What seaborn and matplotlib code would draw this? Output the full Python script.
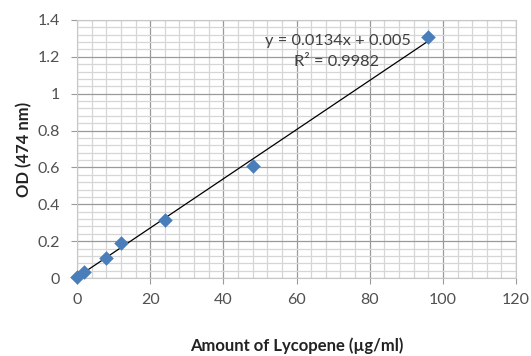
import numpy as np
import pandas as pd
import matplotlib
matplotlib.use("Agg")
import matplotlib.pyplot as plt
from matplotlib.ticker import MultipleLocator, FuncFormatter
import seaborn as sns

# standard curve values
amount_ug_ml = [0, 2, 8, 12, 24, 48, 96]
od_474 = [0.008, 0.035, 0.11, 0.19, 0.315, 0.605, 1.305]
equation_text = "y = 0.0134x + 0.005"
r2_text = "R² = 0.9982"

data = pd.DataFrame({"amount": amount_ug_ml, "od": od_474})

sns.set_style("white")
plt.rcParams["font.family"] = ["Lato", "DejaVu Sans"]

fig = plt.figure(figsize=(5.31, 3.56), dpi=100)
ax = fig.add_axes([0.145, 0.219, 0.827, 0.725])

# linear trend line (from first to last point)
sns.regplot(
    data=data, x="amount", y="od",
    scatter=False, ci=None, truncate=True,
    line_kws=dict(color="black", linewidth=0.9, zorder=3),
    ax=ax
    )

# measured points
sns.scatterplot(
    data=data, x="amount", y="od",
    marker="D", s=55, color="#4a7ebb", edgecolor="#4a7ebb",
    linewidth=0, zorder=4, clip_on=False, ax=ax
    )

# axes limits and ticks
ax.set_xlim(0, 120)
ax.set_ylim(0, 1.4)
ax.xaxis.set_major_locator(MultipleLocator(20))
ax.xaxis.set_minor_locator(MultipleLocator(4))
ax.yaxis.set_major_locator(MultipleLocator(0.2))
ax.yaxis.set_minor_locator(MultipleLocator(0.04))
ax.yaxis.set_major_formatter(FuncFormatter(lambda v, p: f"{v:g}"))

# grid lines
ax.grid(which="minor", color="#d6d6d6", linewidth=0.9, zorder=0)
ax.grid(which="major", color="#9a9a9a", linewidth=0.9, zorder=1)
ax.set_axisbelow(True)

for side in ["top", "right", "left", "bottom"]:
    ax.spines[side].set_color("#c8c8c8")
    ax.spines[side].set_linewidth(0.8)

ax.tick_params(which="major", length=4, width=0.8, color="#9a9a9a",
               labelsize=11.5, labelcolor="#505050",
               bottom=True, left=True)
ax.tick_params(axis="x", which="major", pad=7)
ax.tick_params(axis="y", which="major", pad=8)
ax.tick_params(which="minor", length=0)

# axis labels
ax.set_xlabel("Amount of Lycopene (µg/ml)", fontsize=12, fontweight="bold",
              color="#222222", labelpad=22)
ax.set_ylabel("OD (474 nm)", fontsize=12, fontweight="bold",
              color="#222222", labelpad=4)

# trend line equation
ax.text(0.595, 0.92, equation_text, transform=ax.transAxes,
        ha="center", va="center", fontsize=11.8, color="#404040", zorder=5)
ax.text(0.592, 0.838, r2_text, transform=ax.transAxes,
        ha="center", va="center", fontsize=11.8, color="#404040", zorder=5)

plt.savefig("out.png", dpi=100)
